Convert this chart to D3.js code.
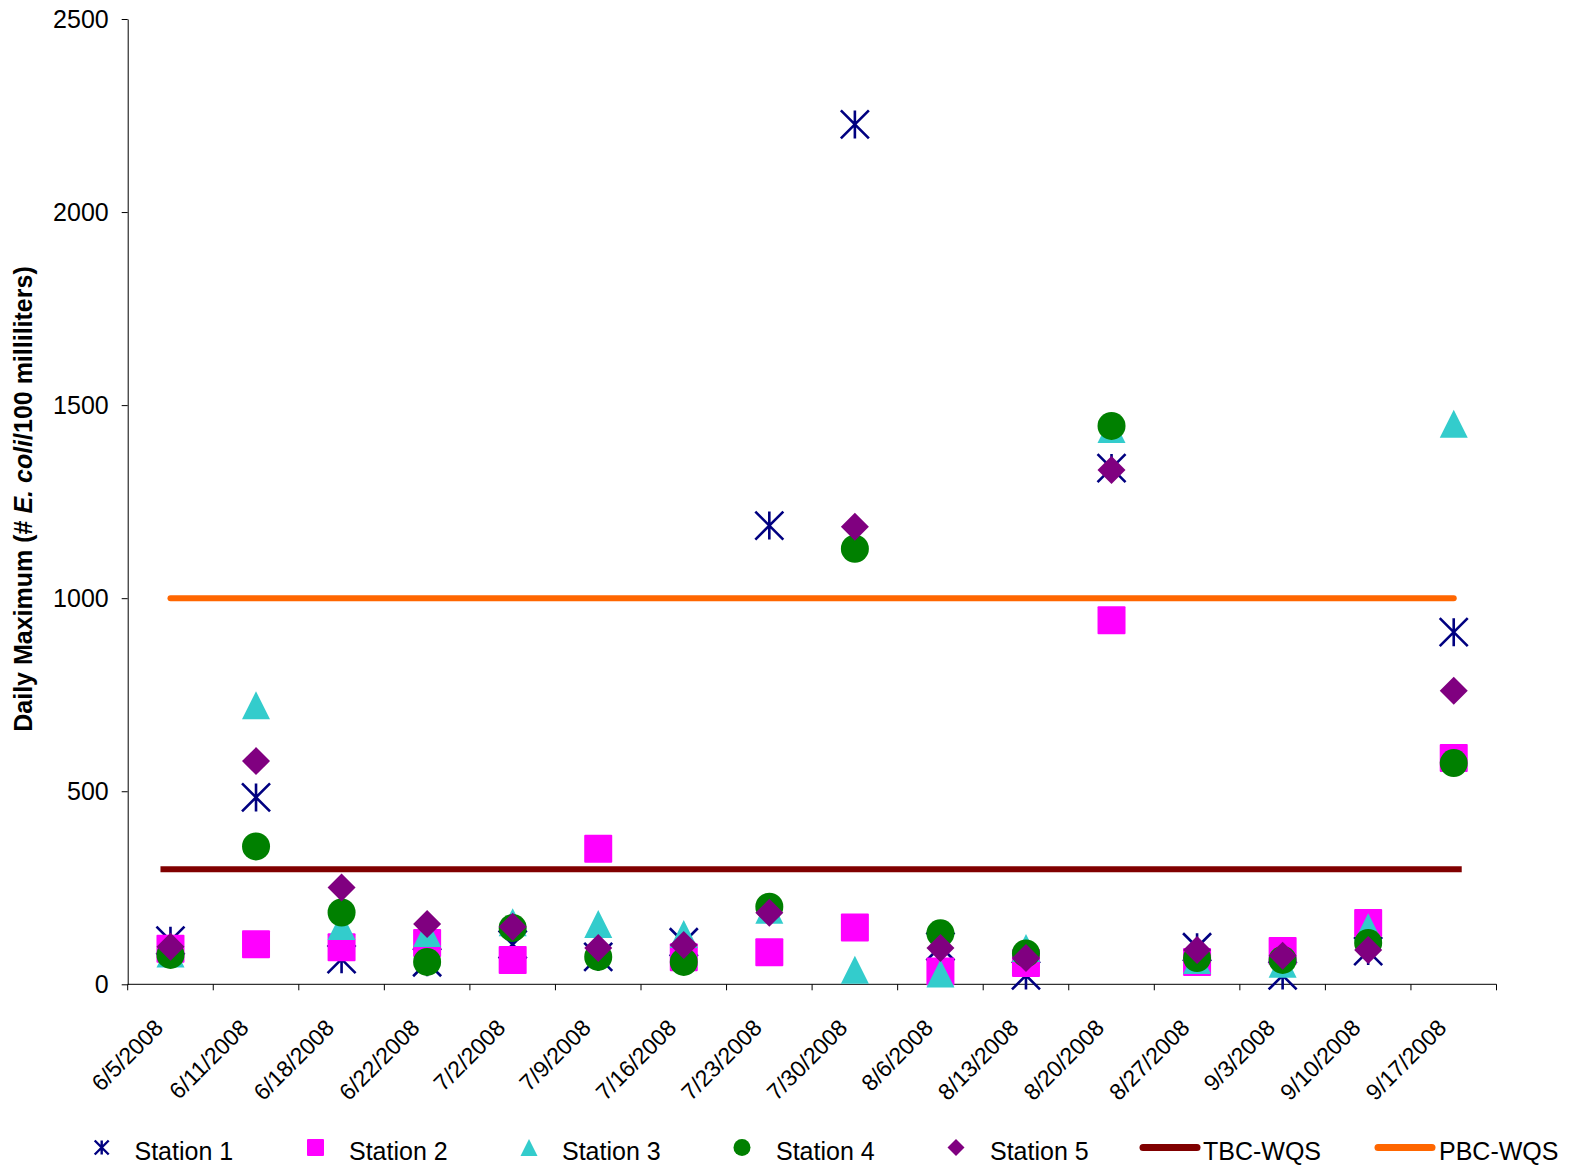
<!DOCTYPE html>
<html><head><meta charset="utf-8">
<script src="https://cdn.jsdelivr.net/npm/d3@7"></script>
<style>body{margin:0;background:#fff}svg{display:block;font-family:"Liberation Sans",Arial,sans-serif}</style>
</head><body><svg id="c" width="1574" height="1168"></svg>
<script>
const categories = ["6/5/2008","6/11/2008","6/18/2008","6/22/2008","7/2/2008","7/9/2008","7/16/2008","7/23/2008","7/30/2008","8/6/2008","8/13/2008","8/20/2008","8/27/2008","9/3/2008","9/10/2008","9/17/2008"];
const station1 = [113,484,65,57,103,71,109,1188,2227,98,23,1337,96,23,86,912];
const station2 = [92,104,96,107,63,351,70,83,147,33,55,943,58,86,159,586];
const station3 = [80,723,151,133,161,156,130,193,38,28,94,1438,63,53,148,1452];
const station4 = [76,357,186,58,146,71,58,201,1128,132,80,1446,68,63,107,573];
const station5 = [97,578,251,156,149,94,102,185,1185,94,68,1332,89,74,89,760];
const tbcValue = 298;
const pbcValue = 1000;
const yTicks = [0,500,1000,1500,2000,2500];

const seriesNames = ["Station 1","Station 2","Station 3","Station 4","Station 5"];
const seriesData = [station1,station2,station3,station4,station5];
const seriesColors = ["#000080","#FF00FF","#33CCCC","#008000","#800080"];
const seriesShapes = ["star","square","triangle","circle","diamond"];

const svg = d3.select("#c");
const pLeft=127.7, pRight=1496.5, pTop=19, pBottom=984.3;
const x = d3.scaleBand().domain(categories).range([pLeft,pRight]);
const y = d3.scaleLinear().domain([0,2500]).range([pBottom,pTop]);

function marker(g, shape, color, s, sw){
  const h=s/2;
  if(shape==="star"){
    g.append("path").attr("d",`M${-h},${-h}L${h},${h}M${-h},${h}L${h},${-h}M0,${-h}L0,${h}`)
      .attr("stroke",color).attr("stroke-width",sw||2.6).attr("fill","none");
  } else if(shape==="square"){
    g.append("rect").attr("x",-h).attr("y",-h).attr("width",s).attr("height",s).attr("rx",1).attr("fill",color);
  } else if(shape==="triangle"){
    g.append("path").attr("d",`M0,${-h}L${h},${h}L${-h},${h}Z`).attr("fill",color);
  } else if(shape==="circle"){
    g.append("circle").attr("r",h).attr("fill",color);
  } else if(shape==="diamond"){
    g.append("path").attr("d",`M0,${-h}L${h},0L0,${h}L${-h},0Z`).attr("fill",color);
  }
}

// axes
const yAxis = d3.axisLeft(y).tickValues(yTicks).tickSize(6).tickSizeOuter(0).tickFormat(d3.format("d"));
const gy = svg.append("g").attr("transform",`translate(${pLeft},0)`).call(yAxis);
gy.select(".domain").attr("stroke","#000");
gy.selectAll(".tick line").attr("stroke","#000");
gy.selectAll(".tick text").attr("font-size",25).attr("fill","#000").attr("x",-19).attr("font-family","Liberation Sans, Arial, sans-serif");

const gx = svg.append("g").attr("transform",`translate(0,${pBottom})`);
gx.append("line").attr("x1",pLeft).attr("x2",pRight).attr("stroke","#000");
const bounds = categories.map(c=>x(c)).concat([pRight]);
gx.selectAll("line.t").data(bounds).enter().append("line").attr("class","t")
  .attr("x1",d=>d).attr("x2",d=>d).attr("y1",0).attr("y2",6).attr("stroke","#000");
gx.selectAll("text").data(categories).enter().append("text")
  .attr("transform",d=>`translate(${x(d)+x.bandwidth()/2-6},${45}) rotate(-45)`)
  .attr("text-anchor","end").attr("font-size",23).attr("fill","#000").text(d=>d);

// reference lines
const cFirst = x(categories[0])+x.bandwidth()/2, cLast = x(categories[categories.length-1])+x.bandwidth()/2;
svg.append("line").attr("x1",cFirst-10).attr("x2",cLast+8).attr("y1",y(tbcValue)).attr("y2",y(tbcValue))
  .attr("stroke","#800000").attr("stroke-width",6);
svg.append("line").attr("x1",cFirst).attr("x2",cLast).attr("y1",y(pbcValue)).attr("y2",y(pbcValue))
  .attr("stroke","#FF6600").attr("stroke-width",6).attr("stroke-linecap","round");

// points
seriesData.forEach((arr,si)=>{
  const g = svg.append("g");
  arr.forEach((v,i)=>{
    const m = g.append("g").attr("transform",`translate(${x(categories[i])+x.bandwidth()/2},${y(v)})`);
    marker(m, seriesShapes[si], seriesColors[si], 28);
  });
});

// y title
const yt = svg.append("text").attr("transform","translate(32,499) rotate(-90)")
  .attr("text-anchor","middle").attr("font-size",25).attr("font-weight","bold").attr("fill","#000");
yt.append("tspan").text("Daily Maximum (# ");
yt.append("tspan").attr("font-style","italic").text("E. coli");
yt.append("tspan").text("/100 milliliters)");

// legend
const ly = 1151.5;
const legItems = [
  {name:"Station 1",type:"star",color:seriesColors[0],mx:101.7,tx:134.5},
  {name:"Station 2",type:"square",color:seriesColors[1],mx:315.5,tx:349},
  {name:"Station 3",type:"triangle",color:seriesColors[2],mx:529,tx:562},
  {name:"Station 4",type:"circle",color:seriesColors[3],mx:742,tx:776},
  {name:"Station 5",type:"diamond",color:seriesColors[4],mx:956,tx:990},
  {name:"TBC-WQS",type:"line",color:"#800000",mx:1170,tx:1203},
  {name:"PBC-WQS",type:"line",color:"#FF6600",mx:1405,tx:1439}
];
legItems.forEach(it=>{
  const g = svg.append("g").attr("transform",`translate(${it.mx},${ly-4})`);
  if(it.type==="line"){
    g.append("line").attr("x1",-27).attr("x2",27).attr("stroke",it.color).attr("stroke-width",7).attr("stroke-linecap","round");
  } else {
    marker(g,it.type,it.color,it.type==="star"?14:17,2.4);
  }
  svg.append("text").attr("x",it.tx).attr("y",1160).attr("font-size",25).attr("fill","#000").text(it.name);
});
</script></body></html>
